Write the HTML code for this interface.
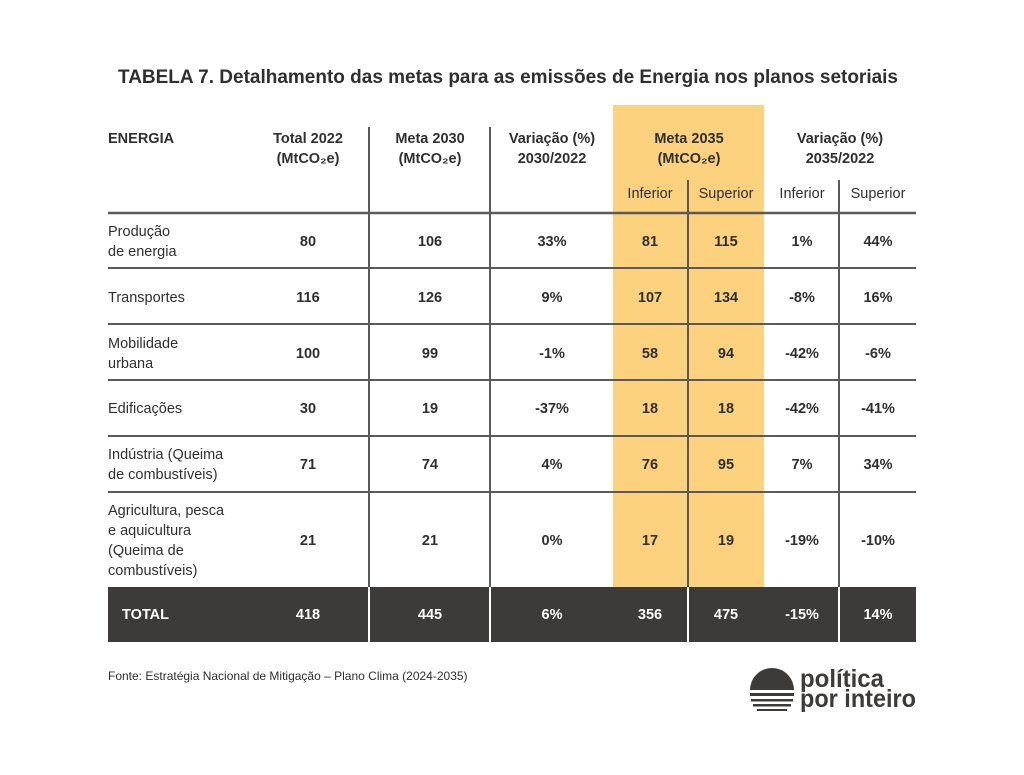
<!DOCTYPE html>
<html><head><meta charset="utf-8"><style>
body{margin:0;background:#fff}
svg{display:block}
text{font-family:"Liberation Sans",sans-serif;fill:#2f2f2f}
.b{font-weight:bold}
.c{text-anchor:middle}
text.w{fill:#fff}
text.lg{fill:#3c3b39}
</style></head><body>
<svg width="1024" height="775" viewBox="0 0 1024 775">
<rect width="1024" height="775" fill="#fff"/>
<text x="118" y="83" class="b" font-size="19" textLength="780" lengthAdjust="spacingAndGlyphs">TABELA 7.  Detalhamento das metas para as emissões de Energia nos planos setoriais</text>
<rect x="613" y="105" width="151" height="482" fill="#fdd27f"/>
<g stroke="#5a5a5a" stroke-width="2">
<line x1="369" y1="127" x2="369" y2="587"/>
<line x1="490" y1="127" x2="490" y2="587"/>
<line x1="688" y1="180" x2="688" y2="587"/>
<line x1="839" y1="180" x2="839" y2="587"/>
<line x1="108" y1="213" x2="916" y2="213" stroke-width="2.5"/>
<line x1="108" y1="268" x2="916" y2="268"/>
<line x1="108" y1="324" x2="916" y2="324"/>
<line x1="108" y1="380" x2="916" y2="380"/>
<line x1="108" y1="436" x2="916" y2="436"/>
<line x1="108" y1="492" x2="916" y2="492"/>
</g>
<rect x="108" y="587" width="808" height="55" fill="#3c3b39"/>
<g stroke="#fff" stroke-width="2">
<line x1="369" y1="587" x2="369" y2="642"/>
<line x1="490" y1="587" x2="490" y2="642"/>
<line x1="688" y1="587" x2="688" y2="642"/>
<line x1="839" y1="587" x2="839" y2="642"/>
</g>
<g font-size="14.5" class="b">
<text x="108" y="143">ENERGIA</text>
<text x="308" y="143" class="c">Total 2022</text><text x="308" y="163" class="c">(MtCO₂e)</text>
<text x="430" y="143" class="c">Meta 2030</text><text x="430" y="163" class="c">(MtCO₂e)</text>
<text x="552" y="143" class="c">Variação (%)</text><text x="552" y="163" class="c">2030/2022</text>
<text x="689" y="143" class="c">Meta 2035</text><text x="689" y="163" class="c">(MtCO₂e)</text>
<text x="840" y="143" class="c">Variação (%)</text><text x="840" y="163" class="c">2035/2022</text>
</g>
<g font-size="14.5">
<text x="650" y="198" class="c">Inferior</text><text x="726" y="198" class="c">Superior</text>
<text x="802" y="198" class="c">Inferior</text><text x="878" y="198" class="c">Superior</text>
<text x="108" y="236">Produção</text><text x="108" y="256">de energia</text>
<text x="108" y="302">Transportes</text>
<text x="108" y="348">Mobilidade</text><text x="108" y="368">urbana</text>
<text x="108" y="413">Edificações</text>
<text x="108" y="459">Indústria (Queima</text><text x="108" y="479">de combustíveis)</text>
<text x="108" y="515">Agricultura, pesca</text><text x="108" y="535">e aquicultura</text><text x="108" y="555">(Queima de</text><text x="108" y="575">combustíveis)</text>
</g>
<g font-size="14.5" class="b">
<text x="308" y="246" class="c">80</text><text x="430" y="246" class="c">106</text><text x="552" y="246" class="c">33%</text><text x="650" y="246" class="c">81</text><text x="726" y="246" class="c">115</text><text x="802" y="246" class="c">1%</text><text x="878" y="246" class="c">44%</text>
<text x="308" y="302" class="c">116</text><text x="430" y="302" class="c">126</text><text x="552" y="302" class="c">9%</text><text x="650" y="302" class="c">107</text><text x="726" y="302" class="c">134</text><text x="802" y="302" class="c">-8%</text><text x="878" y="302" class="c">16%</text>
<text x="308" y="358" class="c">100</text><text x="430" y="358" class="c">99</text><text x="552" y="358" class="c">-1%</text><text x="650" y="358" class="c">58</text><text x="726" y="358" class="c">94</text><text x="802" y="358" class="c">-42%</text><text x="878" y="358" class="c">-6%</text>
<text x="308" y="413" class="c">30</text><text x="430" y="413" class="c">19</text><text x="552" y="413" class="c">-37%</text><text x="650" y="413" class="c">18</text><text x="726" y="413" class="c">18</text><text x="802" y="413" class="c">-42%</text><text x="878" y="413" class="c">-41%</text>
<text x="308" y="469" class="c">71</text><text x="430" y="469" class="c">74</text><text x="552" y="469" class="c">4%</text><text x="650" y="469" class="c">76</text><text x="726" y="469" class="c">95</text><text x="802" y="469" class="c">7%</text><text x="878" y="469" class="c">34%</text>
<text x="308" y="545" class="c">21</text><text x="430" y="545" class="c">21</text><text x="552" y="545" class="c">0%</text><text x="650" y="545" class="c">17</text><text x="726" y="545" class="c">19</text><text x="802" y="545" class="c">-19%</text><text x="878" y="545" class="c">-10%</text>
</g>
<g font-size="14.5" class="b">
<text x="122" y="619" class="w">TOTAL</text>
<text x="308" y="619" class="c w">418</text><text x="430" y="619" class="c w">445</text><text x="552" y="619" class="c w">6%</text><text x="650" y="619" class="c w">356</text><text x="726" y="619" class="c w">475</text><text x="802" y="619" class="c w">-15%</text><text x="878" y="619" class="c w">14%</text>
</g>
<text x="108" y="680" font-size="12">Fonte: Estratégia Nacional de Mitigação – Plano Clima (2024-2035)</text>
<g>
<path d="M750 690 A22 22 0 0 1 794 690 Z" fill="#3c3b39"/>
<rect x="750" y="693" width="44" height="3" fill="#3c3b39"/>
<rect x="751" y="699" width="42" height="2.5" fill="#3c3b39"/>
<rect x="753" y="704" width="38" height="2.5" fill="#3c3b39"/>
<rect x="757" y="709" width="30" height="2" fill="#3c3b39"/>
<text x="800" y="687" font-size="25" class="b lg" textLength="84" lengthAdjust="spacingAndGlyphs">política</text>
<text x="800" y="707" font-size="25" class="b lg" textLength="116" lengthAdjust="spacingAndGlyphs">por inteiro</text>
</g>
</svg>
</body></html>
